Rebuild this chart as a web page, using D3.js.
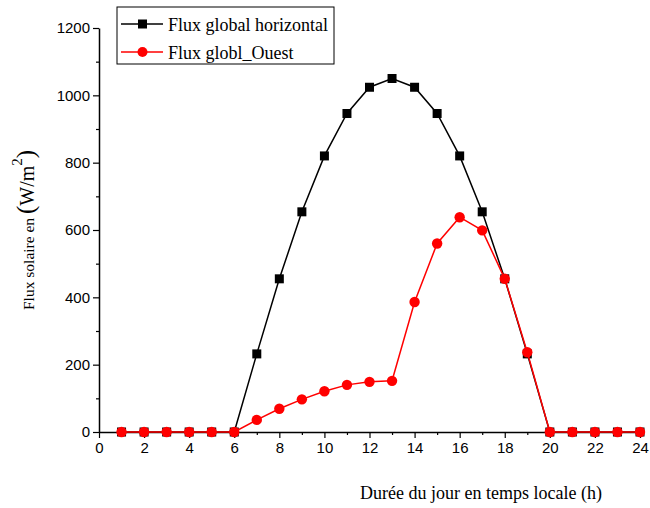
<!DOCTYPE html>
<html>
<head>
<meta charset="utf-8">
<script src="https://cdnjs.cloudflare.com/ajax/libs/d3/7.8.5/d3.min.js"></script>
<style>
  body { margin: 0; background: #fff; }
</style>
</head>
<body>
<div id="chart"></div>
<script>
// chart data
var hours = [1, 2, 3, 4, 5, 6, 7, 8, 9, 10, 11, 12, 13, 14, 15, 16, 17, 18, 19, 20, 21, 22, 23, 24];
var fluxHorizontal = [0, 0, 0, 0, 0, 0, 232, 455, 654, 820, 946, 1024, 1050, 1024, 946, 820, 654, 455, 232, 0, 0, 0, 0, 0];
var fluxOuest = [0, 0, 0, 0, 0, 0, 36, 69, 97, 121, 140, 149, 152, 386, 560, 638, 599, 455, 237, 0, 0, 0, 0, 0];
var xTicks = d3.range(0, 25, 2);
var yTicks = d3.range(0, 1201, 200);
var legendNames = ["Flux global horizontal", "Flux globl_Ouest"];

var svgWidth = 650;
var svgHeight = 508;
var serif = "'Liberation Serif', 'Times New Roman', serif";
var sans = "'Liberation Sans', Arial, sans-serif";

var margin = { top: 28, right: 10, bottom: 76, left: 99 };
var width = 640 - margin.left;
var height = svgHeight - margin.top - margin.bottom;

var svg = d3.select("#chart")
  .append("svg")
  .attr("width", svgWidth)
  .attr("height", svgHeight);

var chartGroup = svg.append("g")
  .attr("transform", `translate(${margin.left}, ${margin.top})`);

var xScale = d3.scaleLinear().domain([0, 24]).range([0, width]);
var yScale = d3.scaleLinear().domain([0, 1200]).range([height, 0]);

// minor ticks first
chartGroup.append("g")
  .attr("transform", `translate(0, ${height})`)
  .call(d3.axisBottom(xScale).tickValues(d3.range(1, 24, 2)).tickSize(3).tickFormat(""))
  .call(g => g.select(".domain").remove());
chartGroup.append("g")
  .call(d3.axisLeft(yScale).tickValues(d3.range(100, 1200, 200)).tickSize(3).tickFormat(""))
  .call(g => g.select(".domain").remove());

// main axes
var xAxis = chartGroup.append("g")
  .attr("transform", `translate(0, ${height})`)
  .call(d3.axisBottom(xScale).tickValues(xTicks).tickFormat(d3.format("d")).tickSize(6).tickSizeOuter(0).tickPadding(4));
var yAxis = chartGroup.append("g")
  .call(d3.axisLeft(yScale).tickValues(yTicks).tickFormat(d3.format("d")).tickSize(6).tickSizeOuter(0).tickPadding(3));

chartGroup.selectAll(".domain").attr("stroke-width", 1.5);
chartGroup.selectAll(".tick line").attr("stroke-width", 1.2);
chartGroup.selectAll(".tick text")
  .attr("font-family", sans)
  .attr("font-size", 15)
  .attr("fill", "#000");

// lines
var line = d3.line().x((d, i) => xScale(hours[i])).y(d => yScale(d));

chartGroup.append("path")
  .datum(fluxHorizontal)
  .attr("fill", "none")
  .attr("stroke", "#000")
  .attr("stroke-width", 1.5)
  .attr("d", line);

chartGroup.selectAll(".sq")
  .data(fluxHorizontal)
  .enter()
  .append("rect")
  .attr("x", (d, i) => xScale(hours[i]) - 4.5)
  .attr("y", d => yScale(d) - 4.5)
  .attr("width", 9)
  .attr("height", 9)
  .attr("fill", "#000");

chartGroup.append("path")
  .datum(fluxOuest)
  .attr("fill", "none")
  .attr("stroke", "#ff0000")
  .attr("stroke-width", 1.5)
  .attr("d", line);

chartGroup.selectAll(".dot")
  .data(fluxOuest)
  .enter()
  .append("circle")
  .attr("cx", (d, i) => xScale(hours[i]))
  .attr("cy", d => yScale(d))
  .attr("r", 5.2)
  .attr("fill", "#ff0000");

// legend
var legend = svg.append("g").attr("transform", "translate(117, 7)");
legend.append("rect")
  .attr("width", 217)
  .attr("height", 57)
  .attr("fill", "#fff")
  .attr("stroke", "#000")
  .attr("stroke-width", 1);

var legendColors = ["#000", "#ff0000"];
legendNames.forEach(function(name, i) {
  var yy = 17 + i * 28;
  legend.append("line")
    .attr("x1", 4).attr("x2", 46)
    .attr("y1", yy).attr("y2", yy)
    .attr("stroke", legendColors[i])
    .attr("stroke-width", 1.5);
  if (i === 0) {
    legend.append("rect").attr("x", 21).attr("y", yy - 4.5).attr("width", 9).attr("height", 9).attr("fill", "#000");
  } else {
    legend.append("circle").attr("cx", 25.5).attr("cy", yy).attr("r", 5).attr("fill", "#ff0000");
  }
  legend.append("text")
    .attr("x", 51)
    .attr("y", yy + 7)
    .attr("font-family", serif)
    .attr("font-size", 18)
    .text(name);
});

// axis titles
svg.append("text")
  .attr("x", 360)
  .attr("y", 499)
  .attr("font-family", serif)
  .attr("font-size", 18)
  .text("Durée du jour en temps locale (h)");

var yLabel = svg.append("text")
  .attr("transform", "translate(34, 310) rotate(-90)")
  .attr("font-family", serif)
  .attr("font-size", 15.5);
yLabel.append("tspan").text("Flux solaire en ");
yLabel.append("tspan").attr("font-size", 25).text("(");
yLabel.append("tspan").attr("font-size", 20).text("W/m");
yLabel.append("tspan").attr("dy", -12).attr("font-size", 15).text("2");
yLabel.append("tspan").attr("dy", 12).attr("font-size", 25).text(")");
</script>
</body>
</html>
